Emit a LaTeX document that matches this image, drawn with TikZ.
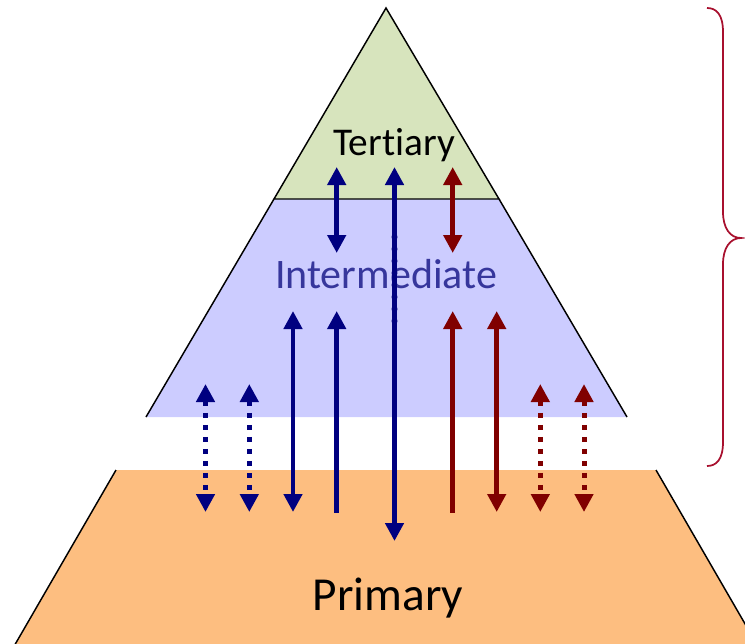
\documentclass[tikz,border=0pt]{standalone}
\usepackage{fontspec}
\setmainfont[Ligatures=NoCommon]{Carlito}
\usetikzlibrary{arrows.meta}
\definecolor{terfill}{HTML}{D7E4BD}
\definecolor{intfill}{HTML}{CCCCFF}
\definecolor{prifill}{HTML}{FDBE80}
\definecolor{navyc}{HTML}{000080}
\definecolor{maroonc}{HTML}{800000}
\definecolor{inttext}{HTML}{36369C}
\definecolor{bracec}{HTML}{A8102E}
\definecolor{faintdot}{HTML}{5050A8}
\tikzset{
  tip/.tip={Triangle[length=13.5pt,width=13.5pt]},
  flow/.style={line width=3.5pt},
  dotflow/.style={line width=3.75pt, dash pattern=on 3.75pt off 5.25pt},
  edge/.style={line width=1.1pt, black},
  lbl/.style={inner sep=0pt, anchor=base}
}
\begin{document}
\begin{tikzpicture}[x=0.75pt,y=-0.75pt]
\useasboundingbox (0,0) rectangle (745,643);
% layers
\fill[prifill] (116,470) -- (656,470) -- (770,667) -- (2,667) -- cycle;
\draw[edge] (116,470) -- (2,667);
\draw[edge] (656,470) -- (770,667);
\fill[intfill] (274,199) -- (499,199) -- (627,417) -- (146,417) -- cycle;
\draw[edge] (274,199) -- (146,417);
\draw[edge] (499,199) -- (627,417);
\filldraw[fill=terfill, draw=black, line width=1.1pt] (386,8) -- (274,199) -- (499,199) -- cycle;
% labels
\node[lbl, font=\fontsize{29.5}{35}\selectfont] (ter) at (394,155) {Tertiary};
\node[lbl, font=\fontsize{31.5}{37}\selectfont, text=inttext] (int) at (386,288) {Intermediate};
\node[lbl, font=\fontsize{35.5}{42}\selectfont] (pri) at (388,610) {Primary};
% faint dotted line behind central arrow
\coordinate (fd1) at (394.5,237);
\coordinate (fd2) at (394.5,327);
\draw[faintdot, line width=4.8pt, line cap=round, dash pattern=on 0pt off 9pt] (fd1) -- (fd2);
% arrow end points
\coordinate (bA1) at (336.7,167); \coordinate (bA2) at (336.7,253);
\coordinate (rA1) at (452.7,167); \coordinate (rA2) at (452.7,253);
\coordinate (cT) at (394.5,167); \coordinate (cB) at (394.5,541);
\coordinate (b1T) at (205.5,384); \coordinate (b1B) at (205.5,512);
\coordinate (b2T) at (249.3,384); \coordinate (b2B) at (249.3,512);
\coordinate (b3T) at (293,311); \coordinate (b3B) at (293,512);
\coordinate (b4T) at (336.7,311); \coordinate (b4B) at (336.7,513);
\coordinate (r1T) at (452.7,311); \coordinate (r1B) at (452.7,513);
\coordinate (r2T) at (496.7,311); \coordinate (r2B) at (496.7,512);
\coordinate (r3T) at (540.3,384); \coordinate (r3B) at (540.3,512);
\coordinate (r4T) at (584,384); \coordinate (r4B) at (584,512);
% arrows
\draw[flow, navyc, tip-tip] (bA1) -- (bA2);
\draw[flow, maroonc, tip-tip] (rA1) -- (rA2);
\draw[flow, navyc, tip-tip] (cT) -- (cB);
\draw[dotflow, navyc, tip-tip] (b1T) -- (b1B);
\draw[dotflow, navyc, tip-tip] (b2T) -- (b2B);
\draw[flow, navyc, tip-tip] (b3T) -- (b3B);
\draw[flow, navyc, tip-] (b4T) -- (b4B);
\draw[flow, maroonc, tip-] (r1T) -- (r1B);
\draw[flow, maroonc, tip-tip] (r2T) -- (r2B);
\draw[dotflow, maroonc, tip-tip] (r3T) -- (r3B);
\draw[dotflow, maroonc, tip-tip] (r4T) -- (r4B);
% brace
\coordinate (brT) at (707,8);
\coordinate (brM) at (741,238);
\coordinate (brB) at (707,466);
\draw[bracec, line width=1.3pt]
  (brT) .. controls (716,8) and (723,14) .. (723,32)
  -- (723,212) .. controls (723,228) and (730,238) .. (brM)
  .. controls (730,238) and (723,248) .. (723,264)
  -- (723,442) .. controls (723,460) and (716,466) .. (brB);
\end{tikzpicture}
\end{document}
